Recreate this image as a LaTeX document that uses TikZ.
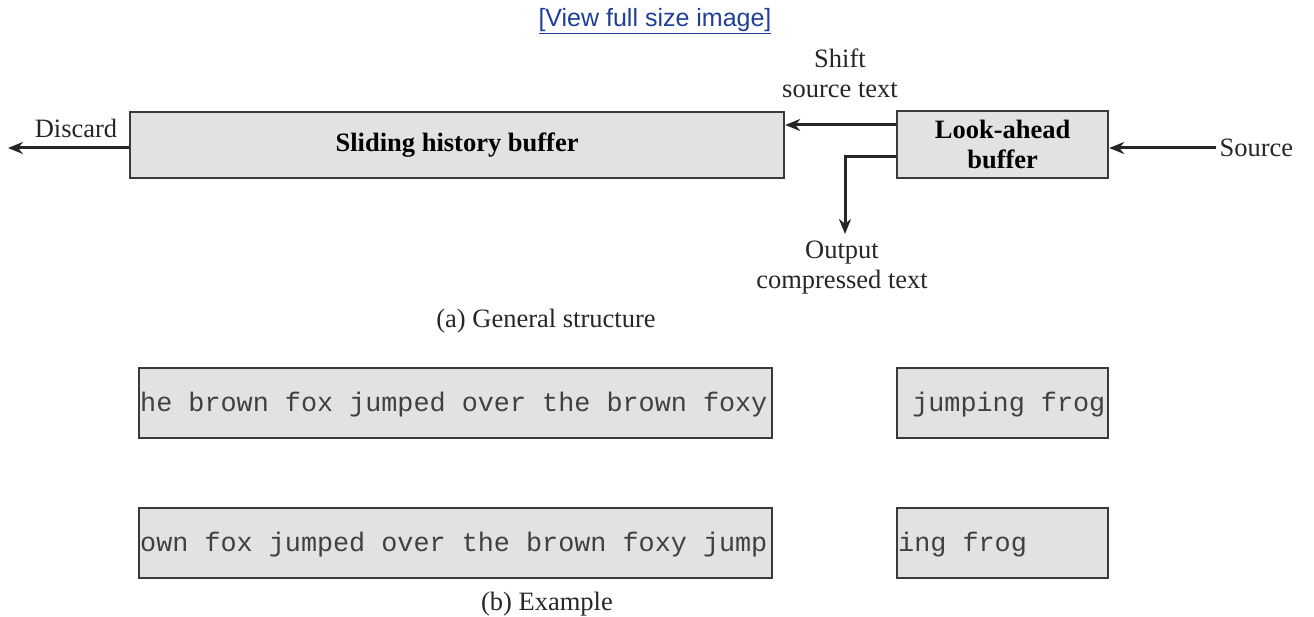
\documentclass[tikz,border=0pt]{standalone}
\usepackage{fontspec}
\setmainfont{Liberation Serif}
\newfontfamily\linkfont{Liberation Sans}
\setmonofont{Liberation Mono}
\usetikzlibrary{arrows.meta}
\definecolor{boxfill}{HTML}{E2E2E2}
\definecolor{boxline}{HTML}{3A3A3A}
\definecolor{linkblue}{HTML}{1F3F99}
\begin{document}
\begin{tikzpicture}[x=1pt,y=-1pt,
  buf/.style={draw=boxline,fill=boxfill,line width=2.2pt,inner sep=0pt,anchor=north west},
  lbl/.style={font=\fontsize{26.5}{30}\selectfont,align=center,text=black!85},
  bold/.style={font=\bfseries\fontsize{26.5}{30}\selectfont,align=center},
  flow/.style={line width=3pt,draw=black!85,-{Stealth[length=15pt,width=12pt]}},
  mono/.style={font=\ttfamily\fontsize{26.8}{30}\selectfont,text=black!75,anchor=base west,inner sep=0pt}]
\useasboundingbox (0,0) rectangle (1314,617);
% link
\node[font=\linkfont\fontsize{25}{28}\selectfont,text=linkblue,inner sep=0pt] (link) at (655,21) {\underline{[View full size image]}};
% (a) structure
\node[buf,minimum width=654pt,minimum height=66pt] (hist) at (129,111) {};
\node[bold] at (hist.center) {Sliding history buffer};
\node[buf,minimum width=211pt,minimum height=67pt] (look) at (896,110) {};
\node[bold] at (look.center) {Look-ahead\\buffer};
\coordinate (disc) at (8,148);
\draw[flow] (hist.west |- disc) -- (disc);
\node[lbl] (disclbl) at (76,128) {Discard};
\coordinate (shy) at (0,125);
\draw[flow] (look.west |- shy) -- (hist.east |- shy);
\node[lbl] (shiftlbl) at (840,73) {Shift\\source text};
\coordinate (outc) at (845,157);
\coordinate (outend) at (845,234);
\draw[flow] (look.west |- outc) -- (outc) -- (outend);
\node[lbl] (outlbl) at (842,268) {Output\\compressed text};
\node[lbl,anchor=west] (src) at (1216,148) {Source};
\draw[flow] (src.west) -- (look.east |- src.west);
\node[lbl] (capa) at (546,321) {(a) General structure};
% (b) example
\node[buf,minimum width=633pt,minimum height=70pt] (e1) at (138,367) {};
\node[mono] at (140,411) {he brown fox jumped over the brown foxy};
\node[buf,minimum width=211pt,minimum height=70pt] (e2) at (896,367) {};
\node[mono] at (896,411) {\ jumping frog};
\node[buf,minimum width=633pt,minimum height=70pt] (e3) at (138,507) {};
\node[mono] at (140,551) {own fox jumped over the brown foxy jump};
\node[buf,minimum width=211pt,minimum height=70pt] (e4) at (896,507) {};
\node[mono] at (898,551) {ing frog};
\node[lbl] (capb) at (547,604) {(b) Example};
\end{tikzpicture}
\end{document}
